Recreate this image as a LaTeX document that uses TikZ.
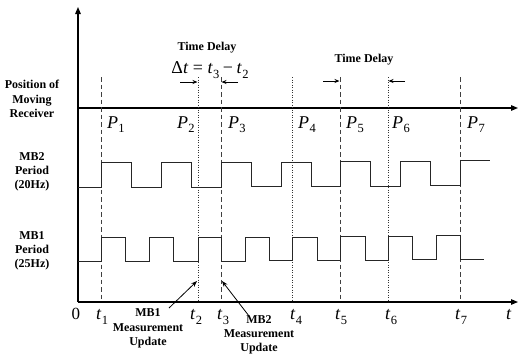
\documentclass[tikz,border=0pt]{standalone}
\usepackage{fontspec}
\setmainfont{Liberation Serif}
\usetikzlibrary{arrows.meta}
\newcommand\lsub[2]{\textit{#1}\kern0.3pt\raisebox{-4.5pt}{\fontsize{12.5}{12.5}\selectfont #2}}
\begin{document}
\begin{tikzpicture}[x=1pt,y=-1pt,
  axis/.style={line width=1.2pt,-{Triangle[length=7pt,width=5.5pt]}},
  wave/.style={line width=0.95pt,draw=black!85},
  dashv/.style={line width=0.9pt,draw=black!75,dash pattern=on 4.5pt off 3pt},
  dotv/.style={line width=0.9pt,draw=black!80,dash pattern=on 0.9pt off 1.6pt},
  lbl/.style={font=\fontsize{12}{14.2}\selectfont\bfseries,align=center,inner sep=0pt},
  mlbl/.style={font=\fontsize{18}{18}\selectfont,inner sep=0pt,anchor=base west},
  darr/.style={line width=0.9pt,-{Stealth[length=5pt,width=4pt]}},
  parr/.style={line width=0.8pt,-{Stealth[length=6pt,width=4.5pt]}}]
\useasboundingbox (0,0) rectangle (518,354);
% axes
\coordinate (O) at (78,302);
\coordinate (ytop) at (78,7);
\coordinate (xend) at (518,302);
\coordinate (pstart) at (78,108);
\coordinate (pend) at (518,108);
\draw[axis] (O) -- (ytop);
\draw[axis] (O) -- (xend);
\draw[axis] (pstart) -- (pend);
% vertical lines
\foreach \n/\x in {1/101,3/221,5/340,7/460}{
  \coordinate (top\n) at (\x,77);
  \coordinate (bot\n) at (\x,302);
  \draw[dashv] (top\n) -- (bot\n);
}
\foreach \n/\x in {2/198,4/292,6/388}{
  \coordinate (top\n) at (\x,77);
  \coordinate (bot\n) at (\x,302);
  \draw[dotv] (top\n) -- (bot\n);
}
% MB2 waveform
\draw[wave] (78,187) -- (101,187) -- (101,162.5) -- (131,162.5) -- (131,187) -- (161,187) -- (161,162.5) -- (191,162.5) -- (191,187) -- (221,187) -- (221,162) -- (251,162) -- (251,186.5) -- (281,186.5) -- (281,162) -- (311,162) -- (311,186.5) -- (340,186.5) -- (340,161.5) -- (370,161.5) -- (370,186) -- (400,186) -- (400,161.5) -- (430,161.5) -- (430,185.5) -- (460,185.5) -- (460,160.5) -- (490,160.5);
% MB1 waveform
\draw[wave] (78,261) -- (101,261) -- (101,237.5) -- (125,237.5) -- (125,261) -- (149,261) -- (149,237.5) -- (173,237.5) -- (173,261) -- (198,261) -- (198,237.5) -- (221,237.5) -- (221,261) -- (245,261) -- (245,237.5) -- (269,237.5) -- (269,260.5) -- (292,260.5) -- (292,237) -- (317,237) -- (317,260.5) -- (340,260.5) -- (340,236.5) -- (365,236.5) -- (365,260) -- (388,260) -- (388,236) -- (412,236) -- (412,259.5) -- (436,259.5) -- (436,235.5) -- (460,235.5) -- (460,259) -- (484,259);
% left labels
\node[lbl] (pos) at (32,99) {Position of\\Moving\\Receiver};
\node[lbl] (mb2) at (32,172) {MB2\\Period\\(20Hz)};
\node[lbl] (mb1) at (32,251) {MB1\\Period\\(25Hz)};
% P labels
\foreach \n/\x in {1/107,2/177,3/228,4/298,5/346,6/392,7/467}{
  \node[mlbl] (P\n) at (\x,128) {\lsub{P}{\n}};
}
% t labels
\node[mlbl,font=\fontsize{17}{17}\selectfont] (zero) at (71.5,319.5) {0};
\foreach \n/\x in {1/96,2/190,3/217,4/290,5/335,6/385,7/455}{
  \node[mlbl] (t\n) at (\x,319.5) {\lsub{t}{\n}};
}
\node[mlbl] (tt) at (506,319) {\textit{t}};
% time delay 1
\node[lbl] (td1) at (207,48) {Time Delay};
\node[font=\fontsize{18}{18}\selectfont,inner sep=0pt] (dt) at (210,70) {Δ\textit{t}\kern4.5pt=\kern4.5pt\lsub{t}{3}\kern3.5pt−\kern3.5pt\lsub{t}{2}};
\coordinate (a1s) at (180,82); \coordinate (a1e) at (197.5,82);
\coordinate (a2s) at (238,82); \coordinate (a2e) at (221.5,82);
\draw[darr] (a1s) -- (a1e);
\draw[darr] (a2s) -- (a2e);
% time delay 2
\node[lbl] (td2) at (364,60) {Time Delay};
\coordinate (b1s) at (323,81); \coordinate (b1e) at (339.5,81);
\coordinate (b2s) at (405,81); \coordinate (b2e) at (388.5,81);
\draw[darr] (b1s) -- (b1e);
\draw[darr] (b2s) -- (b2e);
% measurement updates
\node[lbl] (mu1) at (148,328.5) {MB1\\Measurement\\Update};
\node[lbl] (mu2) at (259,334.5) {MB2\\Measurement\\Update};
\coordinate (m1s) at (169,308); \coordinate (m1e) at (197,281);
\coordinate (m2s) at (249,316); \coordinate (m2e) at (222,281);
\draw[parr] (m1s) -- (m1e);
\draw[parr] (m2s) -- (m2e);
\end{tikzpicture}
\end{document}
